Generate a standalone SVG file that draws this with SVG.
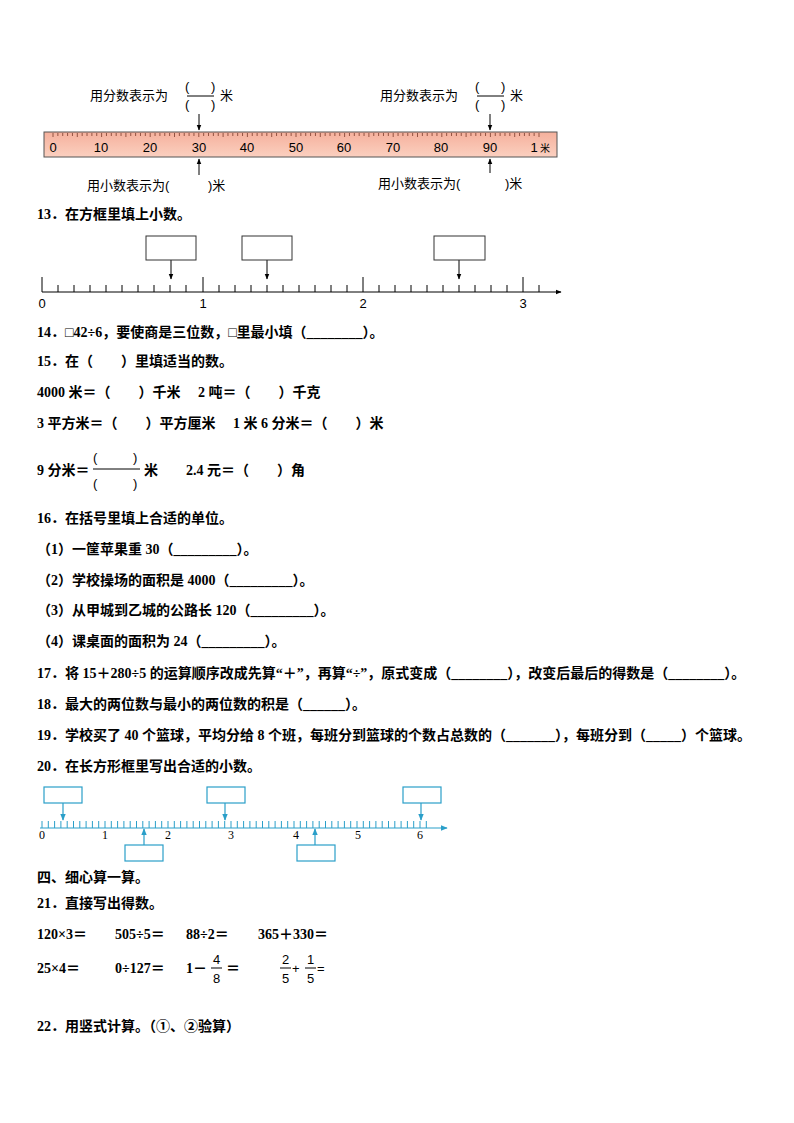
<svg xmlns="http://www.w3.org/2000/svg" width="794" height="1123" viewBox="0 0 794 1123">
<style>
text{font-family:"Liberation Serif","Noto Sans CJK SC",serif;font-size:14px;fill:#000}
.b{font-weight:bold}
.s{font-family:"Liberation Sans","Noto Sans CJK SC",sans-serif;font-size:13px;font-weight:normal}
.k{stroke:#000;stroke-width:1;fill:none}
.c{stroke:#2a9fc9;stroke-width:1.2;fill:none}
</style>
<defs>
<marker id="a" viewBox="0 0 10 10" refX="9" refY="5" markerWidth="6" markerHeight="6" orient="auto"><path d="M0,1L10,5L0,9z" fill="#000"/></marker>
<marker id="ac" viewBox="0 0 10 10" refX="9" refY="5" markerWidth="6" markerHeight="6" orient="auto"><path d="M0,1L10,5L0,9z" fill="#2a9fc9"/></marker>
<linearGradient id="g" x1="0" y1="0" x2="0" y2="1"><stop offset="0" stop-color="#f5b09c"/><stop offset="1" stop-color="#fbd0c0"/></linearGradient>
</defs>
<rect width="794" height="1123" fill="#fff"/>
<g id="ruler">
<rect x="44" y="132" width="513" height="25" fill="url(#g)" stroke="#555"/>
<path stroke="#7a3a2a" stroke-width="0.8" d="M53,133v4M57.86,133v3M62.72,133v3M67.58,133v3M72.44,133v3M77.3,133v4M82.16,133v3M87.02,133v3M91.88,133v3M96.74,133v3M101.6,133v4M106.46,133v3M111.32,133v3M116.18,133v3M121.04,133v3M125.9,133v4M130.76,133v3M135.62,133v3M140.48,133v3M145.34,133v3M150.2,133v4M155.06,133v3M159.92,133v3M164.78,133v3M169.64,133v3M174.5,133v4M179.36,133v3M184.22,133v3M189.08,133v3M193.94,133v3M198.8,133v4M203.66,133v3M208.52,133v3M213.38,133v3M218.24,133v3M223.1,133v4M227.96,133v3M232.82,133v3M237.68,133v3M242.54,133v3M247.4,133v4M252.26,133v3M257.12,133v3M261.98,133v3M266.84,133v3M271.7,133v4M276.56,133v3M281.42,133v3M286.28,133v3M291.14,133v3M296,133v4M300.86,133v3M305.72,133v3M310.58,133v3M315.44,133v3M320.3,133v4M325.16,133v3M330.02,133v3M334.88,133v3M339.74,133v3M344.6,133v4M349.46,133v3M354.32,133v3M359.18,133v3M364.04,133v3M368.9,133v4M373.76,133v3M378.62,133v3M383.48,133v3M388.34,133v3M393.2,133v4M398.06,133v3M402.92,133v3M407.78,133v3M412.64,133v3M417.5,133v4M422.36,133v3M427.22,133v3M432.08,133v3M436.94,133v3M441.8,133v4M446.66,133v3M451.52,133v3M456.38,133v3M461.24,133v3M466.1,133v4M470.96,133v3M475.82,133v3M480.68,133v3M485.54,133v3M490.4,133v4M495.26,133v3M500.12,133v3M504.98,133v3M509.84,133v3M514.7,133v4M519.56,133v3M524.42,133v3M529.28,133v3M534.14,133v3M539,133v4"/>
<text x="53" y="152" text-anchor="middle" class="s">0</text><text x="101" y="152" text-anchor="middle" class="s">10</text><text x="150" y="152" text-anchor="middle" class="s">20</text><text x="199" y="152" text-anchor="middle" class="s">30</text><text x="247" y="152" text-anchor="middle" class="s">40</text><text x="296" y="152" text-anchor="middle" class="s">50</text><text x="344" y="152" text-anchor="middle" class="s">60</text><text x="393" y="152" text-anchor="middle" class="s">70</text><text x="441" y="152" text-anchor="middle" class="s">80</text><text x="490" y="152" text-anchor="middle" class="s">90</text><text x="534" y="152" text-anchor="middle" class="s">1</text><text x="545" y="152" text-anchor="middle" class="s" style="font-size:10px">米</text>
</g>
<g id="ruler-labels">
<text x="90" y="100" class="s">用分数表示为</text>
<text x="185" y="91" class="s" font-size="11">(</text><text x="211" y="91" class="s" font-size="11">)</text>
<line x1="187" y1="96" x2="214" y2="96" stroke="#000"/>
<text x="185" y="109" class="s" font-size="11">(</text><text x="211" y="109" class="s" font-size="11">)</text>
<text x="220" y="100" class="s">米</text>
<text x="380" y="100" class="s">用分数表示为</text>
<text x="475" y="91" class="s" font-size="11">(</text><text x="501" y="91" class="s" font-size="11">)</text>
<line x1="477" y1="96" x2="504" y2="96" stroke="#000"/>
<text x="475" y="109" class="s" font-size="11">(</text><text x="501" y="109" class="s" font-size="11">)</text>
<text x="510" y="100" class="s">米</text>
<text x="87" y="190" class="s">用小数表示为(</text><text x="208" y="190" class="s">)米</text>
<text x="378" y="188" class="s">用小数表示为(</text><text x="505" y="188" class="s">)米</text>
</g>
<g id="connectors">
<line x1="199" y1="114" x2="199" y2="130" class="k" marker-end="url(#a)"/>
<line x1="490" y1="114" x2="490" y2="130" class="k" marker-end="url(#a)"/>
<line x1="199" y1="175" x2="199" y2="159" class="k" marker-end="url(#a)"/>
<line x1="490" y1="173" x2="490" y2="159" class="k" marker-end="url(#a)"/>
<line x1="171" y1="260" x2="171" y2="279" class="k" marker-end="url(#a)"/>
<line x1="267" y1="260" x2="267" y2="279" class="k" marker-end="url(#a)"/>
<line x1="459" y1="260" x2="459" y2="279" class="k" marker-end="url(#a)"/>
<line x1="63" y1="803" x2="63" y2="820" class="c" marker-end="url(#ac)"/>
<line x1="225" y1="803" x2="225" y2="820" class="c" marker-end="url(#ac)"/>
<line x1="421" y1="803" x2="421" y2="820" class="c" marker-end="url(#ac)"/>
<line x1="144" y1="845" x2="144" y2="829" class="c" marker-end="url(#ac)"/>
<line x1="315" y1="845" x2="315" y2="829" class="c" marker-end="url(#ac)"/>
</g>
<g id="q13">
<text x="37" y="219" class="b">13．在方框里填上小数。</text>
<rect x="146" y="236" width="50" height="24" fill="#fff" stroke="#333"/>
<rect x="242" y="236" width="50" height="24" fill="#fff" stroke="#333"/>
<rect x="434" y="236" width="51" height="24" fill="#fff" stroke="#333"/>
<line x1="42" y1="292" x2="561" y2="292" class="k" marker-end="url(#a)"/>
<path stroke="#000" d="M42,277v15M58,285v7M74,285v7M90,285v7M106,285v7M122,285v7M138,285v7M154,285v7M170,285v7M186,285v7M203,277v15M219,285v7M235,285v7M251,285v7M267,285v7M283,285v7M299,285v7M315,285v7M331,285v7M347,285v7M363,277v15M379,285v7M395,285v7M411,285v7M427,285v7M443,285v7M459,285v7M475,285v7M491,285v7M507,285v7M523,277v15M539,285v7"/>
<text x="42" y="308" text-anchor="middle" class="s">0</text><text x="203" y="308" text-anchor="middle" class="s">1</text><text x="363" y="308" text-anchor="middle" class="s">2</text><text x="523" y="308" text-anchor="middle" class="s">3</text>
</g>
<g id="q14-19">
<text x="37" y="337" class="b">14．□42÷6，要使商是三位数，□里最小填（________）。</text>
<text x="37" y="366" class="b">15．在（　　）里填适当的数。</text>
<text x="37" y="397" class="b">4000 米＝（　　）千米　 2 吨＝（　　）千克</text>
<text x="37" y="428" class="b">3 平方米＝（　　）平方厘米　 1 米 6 分米＝（　　）米</text>
<text x="37" y="475" class="b">9 分米＝</text>
<text x="93" y="462" class="s">(</text><text x="133" y="462" class="s">)</text>
<line x1="93" y1="469" x2="140" y2="469" stroke="#000"/>
<text x="93" y="488" class="s">(</text><text x="133" y="488" class="s">)</text>
<text x="144" y="475" class="b">米　　2.4 元＝（　　）角</text>
<text x="37" y="523" class="b">16．在括号里填上合适的单位。</text>
<text x="37" y="554" class="b">（1）一筐苹果重 30（_________）。</text>
<text x="37" y="585" class="b">（2）学校操场的面积是 4000（_________）。</text>
<text x="37" y="615" class="b">（3）从甲城到乙城的公路长 120（_________）。</text>
<text x="37" y="646" class="b">（4）课桌面的面积为 24（_________）。</text>
<text x="37" y="678" class="b">17．将 15＋280÷5 的运算顺序改成先算“＋”，再算“÷”，原式变成（________），改变后最后的得数是（________）。</text>
<text x="37" y="709" class="b">18．最大的两位数与最小的两位数的积是（______）。</text>
<text x="37" y="740" class="b">19．学校买了 40 个篮球，平均分给 8 个班，每班分到篮球的个数占总数的（_______），每班分到（_____）个篮球。</text>
<text x="37" y="771" class="b">20．在长方形框里写出合适的小数。</text>
</g>
<g id="q20">
<rect x="44" y="787" width="38" height="16" fill="#fff" class="c"/>
<rect x="207" y="787" width="38" height="16" fill="#fff" class="c"/>
<rect x="403" y="787" width="38" height="16" fill="#fff" class="c"/>
<rect x="125" y="845" width="38" height="16" fill="#fff" class="c"/>
<rect x="297" y="845" width="38" height="16" fill="#fff" class="c"/>
<line x1="40" y1="828" x2="447" y2="828" class="c" marker-end="url(#ac)"/>
<path stroke="#2a9fc9" stroke-width="1" d="M42,821v7M48.3,821v7M54.6,821v7M60.9,821v7M67.2,821v7M73.5,821v7M79.8,821v7M86.1,821v7M92.4,821v7M98.7,821v7M105,821v7M111.3,821v7M117.6,821v7M123.9,821v7M130.2,821v7M136.5,821v7M142.8,821v7M149.1,821v7M155.4,821v7M161.7,821v7M168,821v7M174.3,821v7M180.6,821v7M186.9,821v7M193.2,821v7M199.5,821v7M205.8,821v7M212.1,821v7M218.4,821v7M224.7,821v7M231,821v7M237.3,821v7M243.6,821v7M249.9,821v7M256.2,821v7M262.5,821v7M268.8,821v7M275.1,821v7M281.4,821v7M287.7,821v7M294,821v7M300.3,821v7M306.6,821v7M312.9,821v7M319.2,821v7M325.5,821v7M331.8,821v7M338.1,821v7M344.4,821v7M350.7,821v7M357,821v7M363.3,821v7M369.6,821v7M375.9,821v7M382.2,821v7M388.5,821v7M394.8,821v7M401.1,821v7M407.4,821v7M413.7,821v7M420,821v7M426.3,821v7"/>
<text x="42" y="839" text-anchor="middle" style="font-size:12px">0</text><text x="105" y="839" text-anchor="middle" style="font-size:12px">1</text><text x="168" y="839" text-anchor="middle" style="font-size:12px">2</text><text x="231" y="839" text-anchor="middle" style="font-size:12px">3</text><text x="296" y="839" text-anchor="middle" style="font-size:12px">4</text><text x="358" y="839" text-anchor="middle" style="font-size:12px">5</text><text x="420" y="839" text-anchor="middle" style="font-size:12px">6</text>
</g>
<g id="q21">
<text x="37" y="882" class="b">四、细心算一算。</text>
<text x="37" y="908" class="b">21．直接写出得数。</text>
<text x="37" y="939" class="b">120×3＝</text>
<text x="115" y="939" class="b">505÷5＝</text>
<text x="186" y="939" class="b">88÷2＝</text>
<text x="258" y="939" class="b">365＋330＝</text>
<text x="37" y="973" class="b">25×4＝</text>
<text x="115" y="973" class="b">0÷127＝</text>
<text x="186" y="973" class="b">1－</text>
<text x="213" y="964" class="s" font-size="11">4</text><line x1="211" y1="968" x2="222" y2="968" stroke="#000"/><text x="213" y="983" class="s" font-size="11">8</text>
<text x="226" y="973" class="b">＝</text>
<text x="282" y="964" class="s" font-size="11">2</text><line x1="280" y1="968" x2="291" y2="968" stroke="#000"/><text x="282" y="983" class="s" font-size="11">5</text>
<text x="292" y="973" class="s">+</text>
<text x="307" y="964" class="s" font-size="11">1</text><line x1="305" y1="968" x2="316" y2="968" stroke="#000"/><text x="307" y="983" class="s" font-size="11">5</text>
<text x="317" y="973" class="s">=</text>
<text x="37" y="1031" class="b">22．用竖式计算。（①、②验算）</text>
</g>
</svg>
